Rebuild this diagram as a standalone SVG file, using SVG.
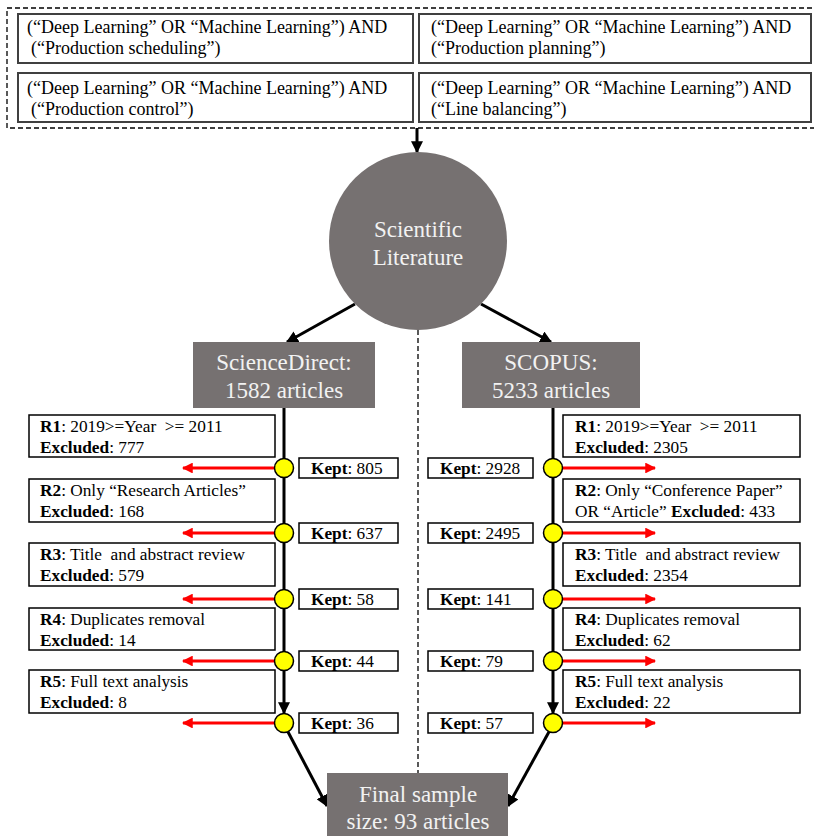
<svg xmlns="http://www.w3.org/2000/svg" width="814" height="836" viewBox="0 0 814 836">
<style>
text{font-family:"Liberation Serif","Times New Roman",serif;fill:#000}
.q{font-size:18px}
.r{font-size:17.3px}
.w{font-size:23px;fill:#f2f2f2;text-anchor:middle}
.box{fill:#fff;stroke:#000;stroke-width:1.5}
.qbox{fill:#fff;stroke:#404040;stroke-width:2}
.grey{fill:#767171}
.dot{fill:#ffff00;stroke:#000;stroke-width:1.5}
.blk{stroke:#000;stroke-width:3;fill:none}
.red{stroke:#ff0000;stroke-width:3;fill:none}
b,.b{font-weight:bold}
</style>
<defs>
<marker id="ab" viewBox="0 0 10 10" refX="9" refY="5" markerWidth="4" markerHeight="4" orient="auto" markerUnits="strokeWidth"><path d="M0,0L10,5L0,10z" fill="#000"/></marker>
<marker id="ar" viewBox="0 0 10 10" refX="9" refY="5" markerWidth="3.6" markerHeight="3.6" orient="auto" markerUnits="strokeWidth"><path d="M0,0L10,5L0,10z" fill="#ff0000"/></marker>
</defs>

<g id="queries">
<rect x="7" y="8" width="820" height="120" fill="none" stroke="#000" stroke-width="1.3" stroke-dasharray="5,3"/>
<g id="q1"><rect class="qbox" x="18" y="14" width="395" height="49"/>
<text class="q" x="27" y="33">(“Deep Learning” OR “Machine Learning”) AND</text>
<text class="q" x="31" y="54">(“Production scheduling”)</text></g>
<g id="q2"><rect class="qbox" x="419" y="14" width="392" height="49"/>
<text class="q" x="431" y="33">(“Deep Learning” OR “Machine Learning”) AND</text>
<text class="q" x="431" y="54">(“Production planning”)</text></g>
<g id="q3"><rect class="qbox" x="18" y="73" width="395" height="49"/>
<text class="q" x="27" y="94">(“Deep Learning” OR “Machine Learning”) AND</text>
<text class="q" x="31" y="115">(“Production control”)</text></g>
<g id="q4"><rect class="qbox" x="419" y="73" width="392" height="49"/>
<text class="q" x="431" y="94">(“Deep Learning” OR “Machine Learning”) AND</text>
<text class="q" x="431" y="115">(“Line balancing”)</text></g>
</g>

<g id="connectors">
<line x1="418" y1="330" x2="418" y2="773" stroke="#000" stroke-width="1.3" stroke-dasharray="5,3"/>
<line class="blk" x1="417" y1="128" x2="417" y2="152" marker-end="url(#ab)" stroke-width="2.5"/>
<line class="blk" x1="355" y1="304" x2="287" y2="342" marker-end="url(#ab)"/>
<line class="blk" x1="481" y1="304" x2="551" y2="342" marker-end="url(#ab)"/>
<line class="blk" x1="284" y1="408" x2="284" y2="713" marker-end="url(#ab)"/>
<line class="blk" x1="553" y1="408" x2="553" y2="713" marker-end="url(#ab)"/>
<line class="blk" x1="287" y1="730" x2="327" y2="806" marker-end="url(#ab)"/>
<line class="blk" x1="550" y1="730" x2="508" y2="806" marker-end="url(#ab)"/>
<line class="red" x1="276" y1="468" x2="183" y2="468" marker-end="url(#ar)"/>
<line class="red" x1="276" y1="533" x2="183" y2="533" marker-end="url(#ar)"/>
<line class="red" x1="276" y1="599" x2="183" y2="599" marker-end="url(#ar)"/>
<line class="red" x1="276" y1="661" x2="183" y2="661" marker-end="url(#ar)"/>
<line class="red" x1="276" y1="723" x2="183" y2="723" marker-end="url(#ar)"/>
<line class="red" x1="561" y1="468" x2="655" y2="468" marker-end="url(#ar)"/>
<line class="red" x1="561" y1="533" x2="655" y2="533" marker-end="url(#ar)"/>
<line class="red" x1="561" y1="599" x2="655" y2="599" marker-end="url(#ar)"/>
<line class="red" x1="561" y1="661" x2="655" y2="661" marker-end="url(#ar)"/>
<line class="red" x1="561" y1="723" x2="655" y2="723" marker-end="url(#ar)"/>
</g>

<g id="literature"><circle class="grey" cx="418" cy="241" r="89"/>
<text class="w" x="418" y="237">Scientific</text>
<text class="w" x="418" y="265">Literature</text></g>

<g id="sciencedirect"><rect class="grey" x="193" y="342" width="182" height="66"/>
<text class="w" x="284" y="370">ScienceDirect:</text>
<text class="w" x="284" y="398">1582 articles</text></g>

<g id="scopus"><rect class="grey" x="462" y="342" width="178" height="66"/>
<text class="w" x="551" y="370">SCOPUS:</text>
<text class="w" x="551" y="398">5233 articles</text></g>

<g id="final"><rect class="grey" x="327" y="773" width="181" height="70"/>
<text class="w" x="418" y="802">Final sample</text>
<text class="w" x="418" y="829">size: 93 articles</text></g>

<g id="left-rules">
<g id="sd-r1"><rect class="box" x="29" y="415" width="246" height="42"/>
<text class="r" x="40" y="432" xml:space="preserve"><tspan class="b">R1</tspan>: 2019&gt;=Year  &gt;= 2011</text>
<text class="r" x="40" y="453"><tspan class="b">Excluded</tspan>: 777</text></g>
<g id="sd-r2"><rect class="box" x="29" y="479" width="246" height="43"/>
<text class="r" x="40" y="496"><tspan class="b">R2</tspan>: Only “Research Articles”</text>
<text class="r" x="40" y="517"><tspan class="b">Excluded</tspan>: 168</text></g>
<g id="sd-r3"><rect class="box" x="29" y="543" width="246" height="43"/>
<text class="r" x="40" y="560" xml:space="preserve"><tspan class="b">R3</tspan>: Title  and abstract review</text>
<text class="r" x="40" y="581"><tspan class="b">Excluded</tspan>: 579</text></g>
<g id="sd-r4"><rect class="box" x="29" y="608" width="246" height="42"/>
<text class="r" x="40" y="625"><tspan class="b">R4</tspan>: Duplicates removal</text>
<text class="r" x="40" y="646"><tspan class="b">Excluded</tspan>: 14</text></g>
<g id="sd-r5"><rect class="box" x="29" y="670" width="246" height="43"/>
<text class="r" x="40" y="687"><tspan class="b">R5</tspan>: Full text analysis</text>
<text class="r" x="40" y="708"><tspan class="b">Excluded</tspan>: 8</text></g>
</g>

<g id="right-rules">
<g id="sc-r1"><rect class="box" x="563" y="415" width="237" height="42"/>
<text class="r" x="575" y="432" xml:space="preserve"><tspan class="b">R1</tspan>: 2019&gt;=Year  &gt;= 2011</text>
<text class="r" x="575" y="453"><tspan class="b">Excluded</tspan>: 2305</text></g>
<g id="sc-r2"><rect class="box" x="563" y="479" width="237" height="43"/>
<text class="r" x="575" y="496"><tspan class="b">R2</tspan>: Only “Conference Paper”</text>
<text class="r" x="575" y="517">OR “Article” <tspan class="b">Excluded</tspan>: 433</text></g>
<g id="sc-r3"><rect class="box" x="563" y="543" width="237" height="43"/>
<text class="r" x="575" y="560" xml:space="preserve"><tspan class="b">R3</tspan>: Title  and abstract review</text>
<text class="r" x="575" y="581"><tspan class="b">Excluded</tspan>: 2354</text></g>
<g id="sc-r4"><rect class="box" x="563" y="608" width="237" height="42"/>
<text class="r" x="575" y="625"><tspan class="b">R4</tspan>: Duplicates removal</text>
<text class="r" x="575" y="646"><tspan class="b">Excluded</tspan>: 62</text></g>
<g id="sc-r5"><rect class="box" x="563" y="670" width="237" height="43"/>
<text class="r" x="575" y="687"><tspan class="b">R5</tspan>: Full text analysis</text>
<text class="r" x="575" y="708"><tspan class="b">Excluded</tspan>: 22</text></g>
</g>

<g id="dots">
<circle class="dot" cx="284" cy="468" r="9.5"/><circle class="dot" cx="284" cy="533" r="9.5"/><circle class="dot" cx="284" cy="599" r="9.5"/><circle class="dot" cx="284" cy="661" r="9.5"/><circle class="dot" cx="284" cy="723" r="9.5"/>
<circle class="dot" cx="553" cy="468" r="9.5"/><circle class="dot" cx="553" cy="533" r="9.5"/><circle class="dot" cx="553" cy="599" r="9.5"/><circle class="dot" cx="553" cy="661" r="9.5"/><circle class="dot" cx="553" cy="723" r="9.5"/>
</g>

<g id="kept-left">
<g id="k1"><rect class="box" x="299" y="458" width="99" height="20"/><text class="r" x="311" y="474"><tspan class="b">Kept</tspan>: 805</text></g>
<g id="k2"><rect class="box" x="299" y="523" width="99" height="20"/><text class="r" x="311" y="539"><tspan class="b">Kept</tspan>: 637</text></g>
<g id="k3"><rect class="box" x="299" y="589" width="99" height="20"/><text class="r" x="311" y="605"><tspan class="b">Kept</tspan>: 58</text></g>
<g id="k4"><rect class="box" x="299" y="651" width="99" height="20"/><text class="r" x="311" y="667"><tspan class="b">Kept</tspan>: 44</text></g>
<g id="k5"><rect class="box" x="299" y="713" width="99" height="20"/><text class="r" x="311" y="729"><tspan class="b">Kept</tspan>: 36</text></g>
</g>
<g id="kept-right">
<g id="k6"><rect class="box" x="428" y="458" width="105" height="20"/><text class="r" x="440" y="474"><tspan class="b">Kept</tspan>: 2928</text></g>
<g id="k7"><rect class="box" x="428" y="523" width="105" height="20"/><text class="r" x="440" y="539"><tspan class="b">Kept</tspan>: 2495</text></g>
<g id="k8"><rect class="box" x="428" y="589" width="105" height="20"/><text class="r" x="440" y="605"><tspan class="b">Kept</tspan>: 141</text></g>
<g id="k9"><rect class="box" x="428" y="651" width="105" height="20"/><text class="r" x="440" y="667"><tspan class="b">Kept</tspan>: 79</text></g>
<g id="k10"><rect class="box" x="428" y="713" width="105" height="20"/><text class="r" x="440" y="729"><tspan class="b">Kept</tspan>: 57</text></g>
</g>
</svg>
